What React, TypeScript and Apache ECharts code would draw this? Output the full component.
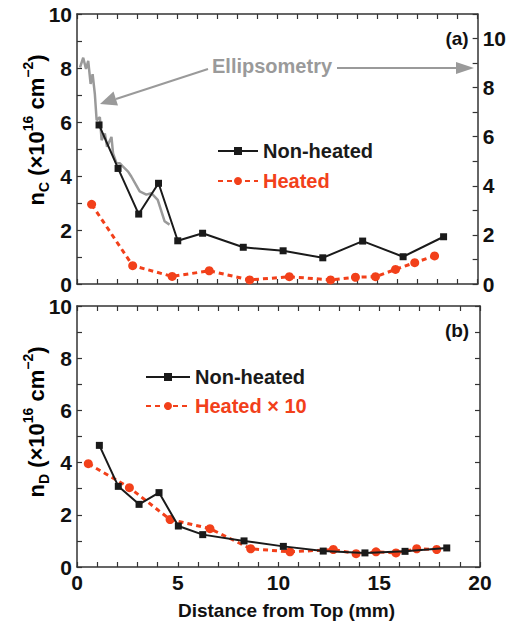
import React, { useEffect, useRef } from "react";
import * as echarts from "echarts";

// ---- Data ----
const xTopNonHeated = [1.1, 2.05, 3.08, 4.07, 5.03, 6.27, 8.3, 10.29, 12.27, 14.26, 16.28, 18.3];
const yTopNonHeated = [5.89, 4.28, 2.59, 3.73, 1.6, 1.88, 1.36, 1.23, 0.97, 1.59, 1.01, 1.75];

const xTopHeated = [0.73, 2.78, 4.75, 6.6, 8.62, 10.6, 12.66, 13.9, 14.9, 15.9, 16.86, 17.85];
const yTopHeated = [2.95, 0.68, 0.28, 0.49, 0.15, 0.27, 0.15, 0.25, 0.27, 0.54, 0.79, 1.04];

// Ellipsometry trace, in right-axis units
const xEllipso = [0.15, 0.31, 0.45, 0.56, 0.68, 0.78, 0.89, 0.98, 1.14, 1.23, 1.39, 1.5, 1.72, 1.8, 1.97, 2.13, 2.3, 2.55, 2.71, 3.13, 3.46, 3.71, 4.03, 4.37, 4.62];
const yEllipso = [8.82, 9.22, 8.76, 9.09, 8.15, 8.55, 7.75, 6.67, 6.8, 5.86, 6.13, 5.59, 5.99, 5.32, 4.92, 4.92, 4.78, 4.58, 4.38, 3.77, 3.64, 3.7, 3.43, 2.56, 2.42];

const xBotNonHeated = [1.11, 2.05, 3.08, 4.07, 5.03, 6.24, 8.29, 10.24, 12.22, 14.29, 16.28, 18.35];
const yBotNonHeated = [4.66, 3.09, 2.4, 2.85, 1.57, 1.24, 1.0, 0.79, 0.61, 0.54, 0.6, 0.73];

const xBotHeated = [0.56, 2.6, 4.62, 6.6, 8.62, 10.57, 12.72, 13.85, 14.84, 15.83, 16.86, 17.85];
const yBotHeated = [3.96, 3.04, 1.82, 1.47, 0.7, 0.58, 0.67, 0.51, 0.58, 0.54, 0.7, 0.67];

const xTickLabels = ["0", "5", "10", "15", "20"];
const yTickLabels = ["0", "2", "4", "6", "8", "10"];

const zip = (xs: number[], ys: number[]) => xs.map((x, i) => [x, ys[i]]);

const FONT = "'Liberation Sans', Arial, Helvetica, sans-serif";
const RED = "#f2401a";
const BLACK = "#1a1a1a";
const GRAY = "#9a9a9a";
const AXIS = "#333";

export default function App() {
  const ref = useRef<HTMLDivElement>(null);

  useEffect(() => {
    if (!ref.current) return;
    const chart = echarts.init(ref.current, undefined, { renderer: "svg" });

    const labelStyle = {
      fontFamily: FONT,
      fontWeight: "bold" as const,
      fontSize: 21,
      color: "#111",
    };

    const baseAxis = (extra: any) => ({
      min: 0,
      interval: 1,
      splitLine: { show: false },
      axisLine: { show: true, onZero: false, lineStyle: { color: AXIS, width: 1.5 } },
      axisTick: { show: true, inside: true, length: 5, lineStyle: { color: AXIS, width: 1.2 } },
      ...extra,
    });

    const xLabel = (show: boolean) => ({
      show,
      ...labelStyle,
      margin: 5,
      formatter: (v: number) => (xTickLabels.includes(String(v)) ? String(v) : ""),
    });
    const yLabel = (show: boolean) => ({
      show,
      ...labelStyle,
      margin: 5,
      formatter: (v: number) => (yTickLabels.includes(String(v)) ? String(v) : ""),
    });

    const rich = {
      m: { fontFamily: FONT, fontWeight: "bold", fontSize: 22, lineHeight: 30, color: "#111", verticalAlign: "middle" },
      sub: { fontFamily: FONT, fontWeight: "bold", fontSize: 14, lineHeight: 12, color: "#111", verticalAlign: "bottom" },
      sup: { fontFamily: FONT, fontWeight: "bold", fontSize: 14, lineHeight: 14, color: "#111", verticalAlign: "top" },
    };
    const yTitle = (letter: string) =>
      `{m|n}{sub|${letter}}{m| (×10}{sup|16}{m| cm}{sup|−2}{m|)}`;

    const legendText = { fontFamily: FONT, fontWeight: "bold" as const, fontSize: 20 };

    const option: any = {
      animation: false,
      backgroundColor: "#fff",
      grid: [
        { left: 77, right: 29, top: 14, height: 270 },
        { left: 77, right: 29, top: 306, height: 261 },
      ],
      xAxis: [
        baseAxis({ type: "value", gridIndex: 0, max: 20, position: "bottom", axisLabel: xLabel(false) }),
        baseAxis({ type: "value", gridIndex: 0, max: 20, position: "top", axisLabel: xLabel(false) }),
        baseAxis({
          type: "value",
          gridIndex: 1,
          max: 20,
          position: "bottom",
          axisLabel: xLabel(true),
          name: "Distance from Top (mm)",
          nameLocation: "middle",
          nameGap: 34,
          nameTextStyle: { fontFamily: FONT, fontWeight: "bold", fontSize: 19, color: "#111", padding: [0, 0, 0, 16] },
        }),
        baseAxis({ type: "value", gridIndex: 1, max: 20, position: "top", axisLabel: xLabel(false) }),
      ],
      yAxis: [
        baseAxis({ type: "value", gridIndex: 0, max: 10, position: "left", axisLabel: yLabel(true) }),
        baseAxis({ type: "value", gridIndex: 0, max: 11, position: "right", axisLabel: yLabel(true) }),
        baseAxis({ type: "value", gridIndex: 1, max: 10, position: "left", axisLabel: yLabel(true) }),
        baseAxis({ type: "value", gridIndex: 1, max: 10, position: "right", axisLabel: yLabel(false) }),
      ],
      legend: [
        {
          orient: "vertical",
          left: 212,
          top: 136,
          itemWidth: 40,
          itemHeight: 10,
          itemGap: 10,
          textStyle: legendText,
          data: [
            { name: "Non-heated", textStyle: { color: BLACK } },
            { name: "Heated", textStyle: { color: RED } },
          ],
        },
        {
          orient: "vertical",
          left: 140,
          top: 362,
          itemWidth: 44,
          itemHeight: 10,
          itemGap: 9,
          textStyle: legendText,
          data: [
            { name: "Non-heated", textStyle: { color: BLACK } },
            { name: "Heated × 10", textStyle: { color: RED } },
          ],
        },
      ],
      series: [
        {
          name: "Ellipsometry",
          type: "line",
          xAxisIndex: 0,
          yAxisIndex: 1,
          data: zip(xEllipso, yEllipso),
          showSymbol: false,
          symbol: "none",
          lineStyle: { color: GRAY, width: 2.5 },
          z: 1,
        },
        {
          name: "Non-heated",
          type: "line",
          xAxisIndex: 0,
          yAxisIndex: 0,
          data: zip(xTopNonHeated, yTopNonHeated),
          symbol: "rect",
          symbolSize: 7,
          itemStyle: { color: BLACK },
          lineStyle: { color: BLACK, width: 2 },
          z: 3,
        },
        {
          name: "Heated",
          type: "line",
          xAxisIndex: 0,
          yAxisIndex: 0,
          data: zip(xTopHeated, yTopHeated),
          symbol: "circle",
          symbolSize: 9,
          itemStyle: { color: RED },
          lineStyle: { color: RED, width: 3, type: [5, 4] },
          z: 2,
        },
        {
          name: "Non-heated",
          type: "line",
          xAxisIndex: 2,
          yAxisIndex: 2,
          data: zip(xBotNonHeated, yBotNonHeated),
          symbol: "rect",
          symbolSize: 7,
          itemStyle: { color: BLACK },
          lineStyle: { color: BLACK, width: 2 },
          z: 3,
        },
        {
          name: "Heated × 10",
          type: "line",
          xAxisIndex: 2,
          yAxisIndex: 2,
          data: zip(xBotHeated, yBotHeated),
          symbol: "circle",
          symbolSize: 9,
          itemStyle: { color: RED },
          lineStyle: { color: RED, width: 3, type: [5, 4] },
          z: 2,
        },
      ],
      graphic: [
        {
          type: "text",
          x: 36,
          y: 130,
          rotation: Math.PI / 2,
          style: { text: yTitle("C"), rich, align: "center", verticalAlign: "middle" },
        },
        {
          type: "text",
          x: 36,
          y: 422,
          rotation: Math.PI / 2,
          style: { text: yTitle("D"), rich, align: "center", verticalAlign: "middle" },
        },
        {
          type: "text",
          x: 457,
          y: 38,
          style: { text: "(a)", fontFamily: FONT, fontWeight: "bold", fontSize: 19, fill: "#111", align: "center", verticalAlign: "middle" },
        },
        {
          type: "text",
          x: 457,
          y: 330,
          style: { text: "(b)", fontFamily: FONT, fontWeight: "bold", fontSize: 19, fill: "#111", align: "center", verticalAlign: "middle" },
        },
        {
          type: "text",
          x: 212,
          y: 66,
          style: { text: "Ellipsometry", fontFamily: FONT, fontWeight: "bold", fontSize: 20, fill: GRAY, align: "left", verticalAlign: "middle" },
        },
        {
          type: "line",
          shape: { x1: 208, y1: 69, x2: 116, y2: 99 },
          style: { stroke: GRAY, lineWidth: 2 },
        },
        {
          type: "polygon",
          shape: { points: [[100, 104], [118, 105.5], [113.5, 91.5]] },
          style: { fill: GRAY },
        },
        {
          type: "line",
          shape: { x1: 337, y1: 68, x2: 458, y2: 68 },
          style: { stroke: GRAY, lineWidth: 2 },
        },
        {
          type: "polygon",
          shape: { points: [[474, 68], [456, 62], [456, 74]] },
          style: { fill: GRAY },
        },
      ],
    };

    chart.setOption(option);
    return () => chart.dispose();
  }, []);

  return (
    <div
      ref={ref}
      style={{ position: "fixed", left: 0, top: 0, width: 509, height: 628, background: "#fff" }}
    />
  );
}
